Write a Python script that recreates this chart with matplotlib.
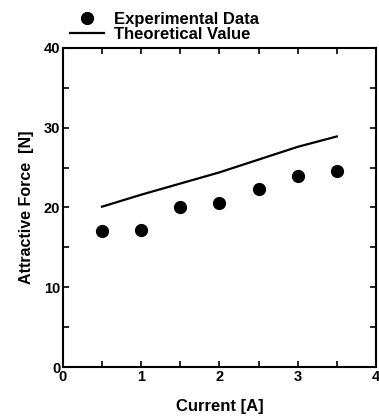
import matplotlib
matplotlib.use("Agg")
import matplotlib.pyplot as plt
from matplotlib.ticker import MultipleLocator

# Data
current = [0.5, 1.0, 1.5, 2.0, 2.5, 3.0, 3.5]
force_exp = [17.1, 17.2, 20.0, 20.6, 22.3, 24.0, 24.6]
force_theory = [20.1, 21.6, 23.0, 24.4, 26.0, 27.6, 28.9]

plt.rcParams['font.family'] = ['Liberation Sans', 'DejaVu Sans']
plt.rcParams['font.weight'] = 'bold'

fig = plt.figure(figsize=(3.79, 4.2), dpi=100)
ax = fig.add_axes([0.166, 0.126, 0.826, 0.76])

ax.plot(current, force_exp, 'o', color='black', markersize=8.5, label='Experimental Data')
ax.plot(current, force_theory, '-', color='black', linewidth=1.6, label='Theoretical Value')

ax.set_xlim(0, 4)
ax.set_ylim(0, 40)
ax.xaxis.set_major_locator(MultipleLocator(1))
ax.xaxis.set_minor_locator(MultipleLocator(0.5))
ax.yaxis.set_major_locator(MultipleLocator(10))
ax.yaxis.set_minor_locator(MultipleLocator(5))
ax.tick_params(which='both', direction='in', top=True, right=True, width=1.2)
ax.tick_params(which='major', length=4, labelsize=10.5, pad=2)
ax.tick_params(which='minor', length=4)
for lbl in ax.get_xticklabels() + ax.get_yticklabels():
    lbl.set_fontweight('bold')
for s in ax.spines.values():
    s.set_linewidth(1.5)

ax.set_xlabel('Current [A]', fontsize=12, fontweight='bold', labelpad=11)
ax.set_ylabel('Attractive Force  [N]', fontsize=11.5, fontweight='bold', labelpad=7)

leg = fig.legend(loc='upper left', bbox_to_anchor=(0.155, 1.0), frameon=False,
                 fontsize=12, handlelength=2.0, handletextpad=0.6,
                 labelspacing=0.0, borderpad=0.2)
for t in leg.get_texts():
    t.set_fontweight('bold')

fig.savefig('out.png', dpi=100)
